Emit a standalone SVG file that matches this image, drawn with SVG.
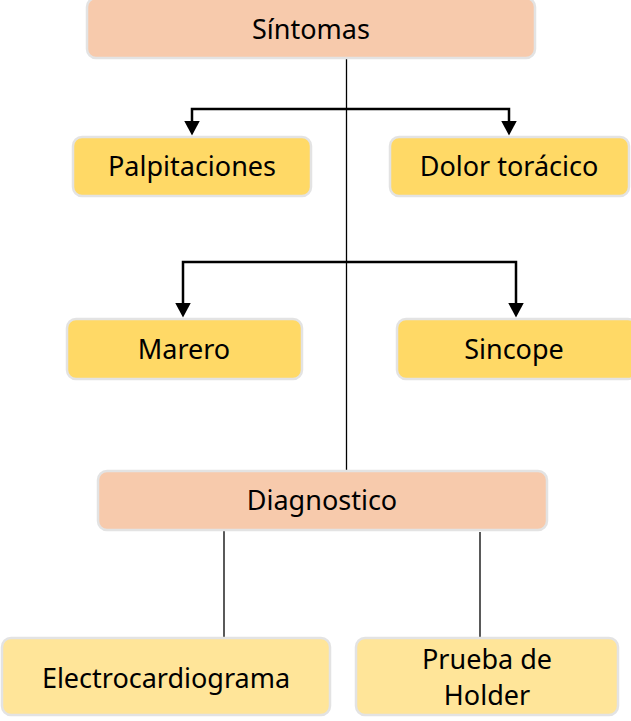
<svg xmlns="http://www.w3.org/2000/svg" width="631" height="721" viewBox="0 0 631 721">
<style>
.box{stroke:#e3e3e3;stroke-width:2.5}
.peach{fill:#F7CAAC}
.gold{fill:#FFD966}
.light{fill:#FFE599}
.lbl{font-family:"Noto Sans","Open Sans",sans-serif;font-size:27px;fill:#000;text-anchor:middle}
.thin{stroke:#000;stroke-width:1.3;fill:none}
.arr{stroke:#000;stroke-width:2.5;fill:none}
</style>
<defs>
<marker id="ah" markerWidth="6" markerHeight="6.4" refX="0.2" refY="3.2" orient="auto-start-reverse" markerUnits="strokeWidth">
<path d="M0,0 L6,3.2 L0,6.4 Z" fill="#000"/>
</marker>
</defs>
<rect width="631" height="721" fill="#fff"/>
<g id="connectors">
<line class="thin" x1="346.5" y1="58" x2="346.5" y2="471"/>
<path class="arr" d="M192,121 V109 H509 V121" marker-start="url(#ah)" marker-end="url(#ah)"/>
<path class="arr" d="M183,303 V262 H516 V303" marker-start="url(#ah)" marker-end="url(#ah)"/>
<line class="thin" x1="224" y1="530" x2="224" y2="639"/>
<line class="thin" x1="480" y1="532" x2="480" y2="640"/>
</g>
<g id="sintomas"><rect class="box peach" x="87" y="-2" width="448" height="60" rx="9"/><text class="lbl" x="311" y="39">Síntomas</text></g>
<g id="palpitaciones"><rect class="box gold" x="73" y="137" width="238" height="59" rx="9"/><text class="lbl" x="192" y="176">Palpitaciones</text></g>
<g id="dolor"><rect class="box gold" x="390" y="137" width="239" height="59" rx="9"/><text class="lbl" x="509" y="176">Dolor torácico</text></g>
<g id="marero"><rect class="box gold" x="67" y="319" width="235" height="60" rx="9"/><text class="lbl" x="184" y="359">Marero</text></g>
<g id="sincope"><rect class="box gold" x="397" y="319" width="240" height="60" rx="9"/><text class="lbl" x="514" y="359">Sincope</text></g>
<g id="diagnostico"><rect class="box peach" x="98" y="471" width="449" height="59" rx="9"/><text class="lbl" x="322" y="510">Diagnostico</text></g>
<g id="electro"><rect class="box light" x="2" y="638" width="328" height="77" rx="9"/><text class="lbl" x="166" y="688">Electrocardiograma</text></g>
<g id="holder"><rect class="box light" x="356" y="638" width="262" height="77" rx="9"/><text class="lbl" x="487" y="669">Prueba de</text><text class="lbl" x="487" y="705">Holder</text></g>
</svg>
